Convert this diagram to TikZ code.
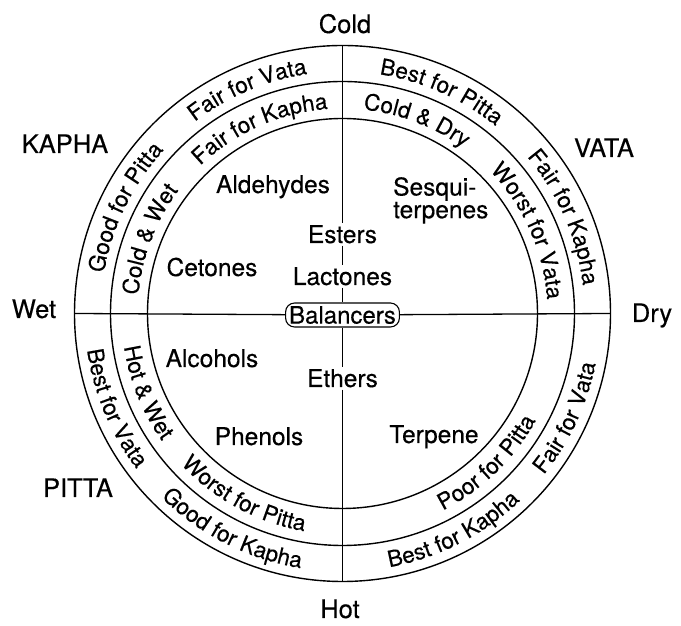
\documentclass[tikz,border=0pt]{standalone}
\usepackage{fontspec}
\setmainfont[FakeBold=0.3]{TeX Gyre Heros}
\usetikzlibrary{decorations.text}
\newcommand\ctxtfont{\fontsize{22.5}{22.5}\selectfont}
\newcommand\arctxt[4]{\path[shift={(342.5,312.5)},decorate,decoration={text along path,text align=center,text={|\ctxtfont|#4}}] (#1:#3) arc[start angle=#1,end angle=#2,radius=#3];}
\begin{document}
\begin{tikzpicture}[x=1pt,y=1pt,
  lbl/.style={font=\fontsize{24.5}{24.5}\selectfont, inner sep=0pt, anchor=base},
  outlbl/.style={font=\fontsize{25.5}{25.5}\selectfont, inner sep=0pt, anchor=base},
  midlbl/.style={font=\fontsize{24.5}{24.5}\selectfont, fill=white, inner sep=2pt, anchor=base},
  ring/.style={line width=1.4pt},
  axis/.style={line width=1.3pt},
  balbox/.style={draw, line width=1.1pt, rounded corners=9pt, font=\fontsize{24}{24}\selectfont, fill=white, inner xsep=3.5pt, inner ysep=0pt, minimum height=24pt}]
\useasboundingbox (0,0) rectangle (681,626);
\coordinate (C) at (342.5,312.5);
\coordinate (N) at (342.5,580.5);
\coordinate (S) at (342.5,44.5);
\coordinate (W) at (74.5,312.5);
\coordinate (E) at (610.5,312.5);
% rings
\draw[ring] (C) circle[radius=268];
\draw[ring] (C) circle[radius=232];
\draw[ring] (C) circle[radius=195];
% outer labels
\node[outlbl] (cold) at (345,593) {Cold};
\node[outlbl] (hot) at (340,8) {Hot};
\node[outlbl] (wet) at (34,308) {Wet};
\node[outlbl] (dry) at (652,304) {Dry};
\node[outlbl] (kapha) at (65,473) {KAPHA};
\node[outlbl] (vata) at (604,469) {VATA};
\node[outlbl] (pitta) at (78,129) {PITTA};
% inner labels
\node[lbl] (ald) at (273,433) {Aldehydes};
\node[lbl] (cet) at (212,350) {Cetones};
\node[lbl] (alc) at (212,259) {Alcohols};
\node[lbl] (phe) at (259,181) {Phenols};
\node[lbl] (ter) at (434,183) {Terpene};
\node[lbl, anchor=north west, align=left, font=\fontsize{24.5}{21}\selectfont] (sesq) at (393,449) {Sesqui-\\terpenes};
\node[midlbl] (est) at (342.5,383) {Esters};
\node[midlbl] (lac) at (342.5,341) {Lactones};
\node[midlbl] (eth) at (342.5,239) {Ethers};
\node[balbox] (bal) at (342.5,311) {Balancers};
% axes
\draw[axis] (N) -- (est);
\draw[axis] (est) -- (lac);
\draw[axis] (lac) -- (bal);
\draw[axis] (bal) -- (eth);
\draw[axis] (eth) -- (S);
\draw[axis] (W) -- (bal);
\draw[axis] (bal) -- (E);
% curved texts, upper half (clockwise)
\arctxt{199}{109}{242}{Good for Pitta}
\arctxt{158}{68}{242}{Fair for Vata}
\arctxt{111}{21}{242}{Best for Pitta}
\arctxt{68.5}{-21.5}{242}{Fair for Kapha}
\arctxt{204}{114}{205}{Cold {\&} Wet}
\arctxt{159}{69}{205}{Fair for Kapha}
\arctxt{114}{24}{205}{Cold {\&} Dry}
\arctxt{69}{-21}{205}{Worst for Vata}
% curved texts, lower half (counterclockwise)
\arctxt{157.6}{247.6}{258}{Best for Vata}
\arctxt{198}{288}{258}{Good for Kapha}
\arctxt{252}{342}{258}{Best for Kapha}
\arctxt{290}{380}{258}{Fair for Vata}
\arctxt{157}{247}{221}{Hot {\&} Wet}
\arctxt{196.5}{286.5}{221}{Worst for Pitta}
\arctxt{269}{359}{221}{Poor for Pitta}
\end{tikzpicture}
\end{document}
